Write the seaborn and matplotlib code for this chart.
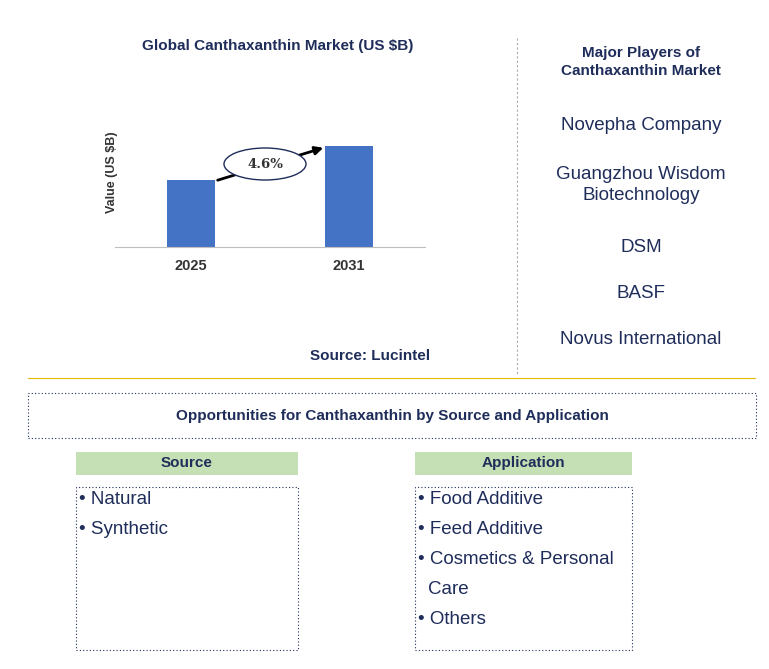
import matplotlib
matplotlib.use("Agg")
import matplotlib.pyplot as plt
import seaborn as sns
import pandas as pd
from matplotlib.patches import Rectangle, Ellipse, FancyArrowPatch
from matplotlib.lines import Line2D

years = ["2025", "2031"]
values = [0.67, 1.0]
cagr_label = "4.6%"
players = ["Novepha Company", "Guangzhou Wisdom\nBiotechnology", "DSM", "BASF", "Novus International"]
source_items = ["Natural", "Synthetic"]
application_items = ["Food Additive", "Feed Additive", "Cosmetics & Personal", "Care", "Others"]

plt.rcParams["font.family"] = "Liberation Sans"

W, H = 769, 669
navy = "#1f2d5a"
blue = "#4472c4"

fig = plt.figure(figsize=(W / 100, H / 100), dpi=100)

def fx(x):
    return x / W

def fy(y):
    return 1 - y / H

# bar chart
ax = fig.add_axes([fx(115), fy(247), fx(425) - fx(115), fy(97) - fy(247)])
df = pd.DataFrame({"year": years, "value": values})
sns.barplot(data=df, x="year", y="value", color=blue, width=0.3, saturation=1, ax=ax)
ax.set_xlim(-0.48, 1.48)
ax.set_ylim(0, 1.49)
ax.set_yticks([])
ax.set_xlabel("")
ax.set_ylabel("Value (US $B)", fontsize=9, fontweight="bold", color="#333333", labelpad=-2)
for s in ["top", "right", "left"]:
    ax.spines[s].set_visible(False)
ax.spines["bottom"].set_color("#bfbfbf")
ax.tick_params(axis="x", length=0, labelsize=10.5, pad=9)
for t in ax.get_xticklabels():
    t.set_fontweight("bold")
    t.set_color("#333333")

fig.text(fx(278), fy(46), "Global Canthaxanthin Market (US $B)", ha="center", va="center",
         fontsize=11, color=navy, fontweight="bold")

arrow = FancyArrowPatch((fx(215), fy(181)), (fx(326), fy(147)), transform=fig.transFigure,
                        arrowstyle="-|>", mutation_scale=12, lw=2, color="black")
fig.patches.append(arrow)
ell = Ellipse((fx(265), fy(164)), fx(82), 32 / H, transform=fig.transFigure,
              facecolor="white", edgecolor=navy, lw=1)
fig.patches.append(ell)
fig.text(fx(265), fy(164), cagr_label, ha="center", va="center", fontsize=9.5,
         family="DejaVu Serif", fontweight="bold", color="#333333")

fig.text(fx(370), fy(356), "Source: Lucintel", ha="center", va="center", fontsize=11,
         color=navy, fontweight="bold")

# divider lines
fig.add_artist(Line2D([fx(517), fx(517)], [fy(38), fy(375)], transform=fig.transFigure,
                      color="#aaaaaa", lw=0.8, ls=(0, (2, 2))))
fig.add_artist(Line2D([fx(28), fx(755)], [fy(378), fy(378)], transform=fig.transFigure,
                      color="#e6b800", lw=0.8))

# players
fig.text(fx(641), fy(62), "Major Players of\nCanthaxanthin Market", ha="center", va="center",
         fontsize=11, color=navy, fontweight="bold", linespacing=1.4)
player_y = [125, 185, 247, 293, 340]
for name, y in zip(players, player_y):
    fig.text(fx(641), fy(y), name, ha="center", va="center", fontsize=13.5, color=navy,
             linespacing=1.3)

# opportunities
def box(x0, y0, x1, y1, **kw):
    r = Rectangle((fx(x0), fy(y1)), fx(x1) - fx(x0), fy(y0) - fy(y1), transform=fig.transFigure, **kw)
    fig.patches.append(r)

box(28, 393, 756, 438, facecolor="none", edgecolor=navy, lw=0.8, ls=(0, (1, 2)))
fig.text(fx(392), fy(416), "Opportunities for Canthaxanthin by Source and Application",
         ha="center", va="center", fontsize=11, color=navy, fontweight="bold")

for (x0, x1, title, items) in [(76, 298, "Source", source_items), (415, 632, "Application", application_items)]:
    box(x0, 452, x1, 475, facecolor="#c5e0b4", edgecolor="none")
    fig.text(fx((x0 + x1) / 2), fy(463), title, ha="center", va="center", fontsize=11,
             color=navy, fontweight="bold")
    box(x0, 487, x1, 650, facecolor="none", edgecolor=navy, lw=0.8, ls=(0, (1, 2)))
    for i, item in enumerate(items):
        label = item if item == "Care" else "\u2022 " + item
        xoff = 13 if item == "Care" else 3
        fig.text(fx(x0 + xoff), fy(500 + 30 * i), label, ha="left", va="center",
                 fontsize=13.5, color=navy)

fig.savefig("out.png", dpi=100)
